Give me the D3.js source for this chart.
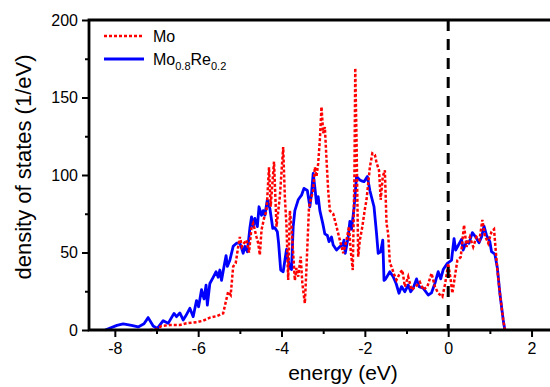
<!DOCTYPE html>
<html>
<head>
<meta charset="utf-8">
<script src="https://cdn.jsdelivr.net/npm/d3@7"></script>
<style>
  body { margin: 0; background: #fff; }
  svg { display: block; font-family: "Liberation Sans", Arial, sans-serif; }
</style>
</head>
<body>
<div class="chart"></div>
<script>
// Mo density of states (red, dotted)
const moEnergy = [-7.16, -7.0, -6.88, -6.68, -6.44, -6.28, -6.04, -5.88, -5.72, -5.55, -5.4, -5.33, -5.28, -5.22, -5.16, -5.1, -5.04, -5.0, -4.95, -4.9, -4.84, -4.78, -4.72, -4.68, -4.6, -4.56, -4.52, -4.48, -4.42, -4.36, -4.3, -4.26, -4.18, -4.12, -4.04, -3.96, -3.92, -3.88, -3.84, -3.8, -3.76, -3.68, -3.64, -3.6, -3.54, -3.5, -3.44, -3.4, -3.34, -3.28, -3.24, -3.2, -3.16, -3.12, -3.08, -3.04, -3.0, -2.96, -2.92, -2.88, -2.84, -2.76, -2.68, -2.6, -2.52, -2.44, -2.38, -2.34, -2.29, -2.25, -2.23, -2.2, -2.16, -2.12, -2.06, -2.0, -1.96, -1.88, -1.82, -1.76, -1.72, -1.66, -1.62, -1.57, -1.52, -1.48, -1.44, -1.4, -1.36, -1.3, -1.24, -1.16, -1.1, -1.04, -0.96, -0.88, -0.78, -0.68, -0.6, -0.5, -0.4, -0.32, -0.24, -0.14, -0.08, -0.02, 0.0, 0.06, 0.1, 0.16, 0.22, 0.3, 0.38, 0.44, 0.52, 0.6, 0.68, 0.75, 0.82, 0.88, 0.96, 1.04, 1.1, 1.14, 1.18, 1.24, 1.32, 1.36];
const moDos = [0, 0.5, 2.6, 3.2, 3.2, 4.3, 5, 6, 8, 9, 10.8, 19, 24.7, 22.6, 41, 43, 53.7, 60, 53.7, 56, 58, 50, 66, 68.8, 60, 56, 48.4, 64.5, 72, 77, 105, 79.5, 108.6, 66.7, 86, 118, 86, 66.7, 32.3, 77, 66.7, 32, 40, 34.4, 47.3, 30, 17.2, 40.8, 79.5, 86, 90, 105, 99, 107.5, 122.6, 144, 127, 131, 109.7, 90, 77, 75, 66.7, 58, 49.5, 58, 66.7, 51.6, 38.7, 100, 169, 122.6, 47.3, 58, 66.7, 78, 84, 105, 114, 113, 108, 103, 84, 99, 103, 68.8, 62, 43, 40.8, 36, 32.3, 36.6, 38.7, 28, 34.4, 25.8, 28, 31, 26, 28, 36.6, 28, 23.7, 21.5, 29, 38.7, 43, 32.3, 23.7, 34.4, 45, 47, 67.7, 53.7, 60, 53.7, 60, 58, 71, 61, 56, 63.4, 65, 51.6, 39, 23.7, 6.5, 0];

// Mo0.8Re0.2 density of states (blue, solid)
const moReEnergy = [-8.23, -7.95, -7.8, -7.6, -7.44, -7.3, -7.2, -7.08, -6.98, -6.84, -6.72, -6.58, -6.52, -6.44, -6.36, -6.3, -6.2, -6.12, -6.04, -5.99, -5.92, -5.86, -5.81, -5.78, -5.72, -5.64, -5.57, -5.52, -5.48, -5.44, -5.38, -5.33, -5.3, -5.24, -5.16, -5.08, -5.0, -4.96, -4.92, -4.88, -4.82, -4.76, -4.72, -4.68, -4.64, -4.58, -4.54, -4.48, -4.44, -4.4, -4.34, -4.28, -4.21, -4.16, -4.1, -4.07, -4.02, -3.96, -3.88, -3.84, -3.8, -3.76, -3.72, -3.68, -3.6, -3.52, -3.46, -3.38, -3.32, -3.28, -3.24, -3.2, -3.16, -3.12, -3.08, -3.01, -2.96, -2.9, -2.86, -2.8, -2.76, -2.68, -2.6, -2.53, -2.5, -2.47, -2.4, -2.36, -2.32, -2.26, -2.2, -2.12, -2.06, -2.02, -1.94, -1.88, -1.78, -1.72, -1.68, -1.62, -1.57, -1.54, -1.5, -1.4, -1.32, -1.25, -1.18, -1.12, -1.04, -0.96, -0.9, -0.84, -0.76, -0.7, -0.6, -0.48, -0.4, -0.32, -0.24, -0.18, -0.12, -0.02, 0.08, 0.14, 0.18, 0.25, 0.32, 0.36, 0.44, 0.5, 0.58, 0.66, 0.74, 0.8, 0.86, 0.92, 1.0, 1.04, 1.12, 1.18, 1.24, 1.32, 1.36];
const moReDos = [0, 3, 4, 3, 2, 4, 8, 2.6, 1, 6, 4.3, 10.7, 8.6, 11, 6.5, 9, 14, 8.6, 19, 15, 26, 20, 29, 16, 30, 34, 37.6, 34, 38.7, 32, 41, 48, 41, 45, 54, 56, 56, 53, 49.5, 54, 50.5, 65.6, 73, 66.7, 72, 66.7, 79.5, 74, 77, 74, 84, 78.5, 65.6, 66, 63.4, 56, 38.7, 37.6, 52, 45, 40, 39, 66.7, 77, 84, 87, 91.4, 90, 79.5, 88, 101, 92, 81.7, 86, 77, 68.8, 62, 61, 57, 60, 54.8, 51.6, 53.8, 54.8, 58, 49.5, 60, 70, 65, 78.5, 99, 96.8, 96, 95.7, 99, 90, 79.5, 62.4, 49.5, 50.5, 58, 32, 33, 37.6, 34.4, 30, 23.7, 28, 24.7, 29, 24.7, 27, 33, 28, 27, 22.6, 24, 30, 37.6, 33, 39, 43, 45, 59, 51.6, 55, 58.5, 51.6, 57, 56, 62.8, 60, 56.3, 60, 67, 61, 57, 50.5, 49, 40, 23.7, 6.5, 0];

const xMajorTicks = [-8, -6, -4, -2, 0, 2];
const xMinorTicks = [-7, -5, -3, -1, 1];
const yMajorTicks = [0, 50, 100, 150, 200];
const yMinorTicks = [25, 75, 125, 175];

const WIDTH = 550;
const HEIGHT = 387;
const margin = {left: 89, top: 20, bottom: 57};
const plotBottom = HEIGHT - margin.bottom;

const x = d3.scaleLinear().domain([-8.62, 2.5]).range([margin.left, margin.left + 11.12 * 41.67]);
const y = d3.scaleLinear().domain([0, 200]).range([plotBottom, margin.top]);

const svg = d3.select(".chart").append("svg")
  .attr("width", WIDTH)
  .attr("height", HEIGHT);

const line = d3.line().x(d => x(d[0])).y(d => y(d[1]));
const moData = moEnergy.map((e, i) => [e, moDos[i]]);
const moReData = moReEnergy.map((e, i) => [e, moReDos[i]]);

// curves
svg.append("path")
  .datum(moReData)
  .attr("d", line)
  .attr("fill", "none")
  .attr("stroke", "#0000ff")
  .attr("stroke-width", 2.8)
  .attr("stroke-linejoin", "round");

svg.append("path")
  .datum(moData)
  .attr("d", line)
  .attr("fill", "none")
  .attr("stroke", "#ff0000")
  .attr("stroke-width", 2.5)
  .attr("stroke-dasharray", "3,2");

// Fermi level
svg.append("line")
  .attr("x1", x(0)).attr("x2", x(0))
  .attr("y1", y(200)).attr("y2", y(0))
  .attr("stroke", "#000")
  .attr("stroke-width", 3)
  .attr("stroke-dasharray", "11,8");

// axes
const xAxis = svg.append("g")
  .attr("transform", `translate(0,${plotBottom})`)
  .call(d3.axisBottom(x).tickValues(xMajorTicks).tickSize(7).tickPadding(6)
    .tickFormat(d => d < 0 ? "-" + Math.abs(d) : d));
svg.append("g")
  .attr("transform", `translate(0,${plotBottom})`)
  .call(d3.axisBottom(x).tickValues(xMinorTicks).tickSize(4).tickFormat(""));

const yAxis = svg.append("g")
  .attr("transform", `translate(${margin.left},0)`)
  .call(d3.axisLeft(y).tickValues(yMajorTicks).tickSize(7).tickPadding(4));
svg.append("g")
  .attr("transform", `translate(${margin.left},0)`)
  .call(d3.axisLeft(y).tickValues(yMinorTicks).tickSize(4).tickFormat(""));

svg.selectAll(".domain").remove();
svg.selectAll(".tick line").attr("stroke", "#000").attr("stroke-width", 2);
svg.selectAll(".tick text").attr("font-size", 16).attr("fill", "#000")
  .attr("font-family", "Liberation Sans, Arial, sans-serif");

// frame
svg.append("path")
  .attr("d", `M${WIDTH + 5},${margin.top}H${margin.left}V${plotBottom}H${WIDTH + 5}`)
  .attr("fill", "none")
  .attr("stroke", "#000")
  .attr("stroke-width", 2.8);

// axis titles
svg.append("text")
  .attr("x", 343)
  .attr("y", 380)
  .attr("text-anchor", "middle")
  .attr("font-size", 21)
  .text("energy (eV)");

svg.append("text")
  .attr("transform", "translate(31,167) rotate(-90)")
  .attr("text-anchor", "middle")
  .attr("font-size", 22)
  .text("density of states (1/eV)");

// legend
const legend = svg.append("g");
legend.append("line")
  .attr("x1", 104).attr("x2", 144).attr("y1", 36).attr("y2", 36)
  .attr("stroke", "#ff0000").attr("stroke-width", 2.5).attr("stroke-dasharray", "3,2");
legend.append("text")
  .attr("x", 153).attr("y", 42).attr("font-size", 16)
  .text("Mo");
legend.append("line")
  .attr("x1", 104).attr("x2", 144).attr("y1", 59).attr("y2", 59)
  .attr("stroke", "#0000ff").attr("stroke-width", 2.8);
const t2 = legend.append("text").attr("x", 153).attr("y", 65).attr("font-size", 16);
t2.append("tspan").text("Mo");
t2.append("tspan").attr("font-size", 11).attr("dy", 5).text("0.8");
t2.append("tspan").attr("dy", -5).text("Re");
t2.append("tspan").attr("font-size", 11).attr("dy", 5).text("0.2");
</script>
</body>
</html>
